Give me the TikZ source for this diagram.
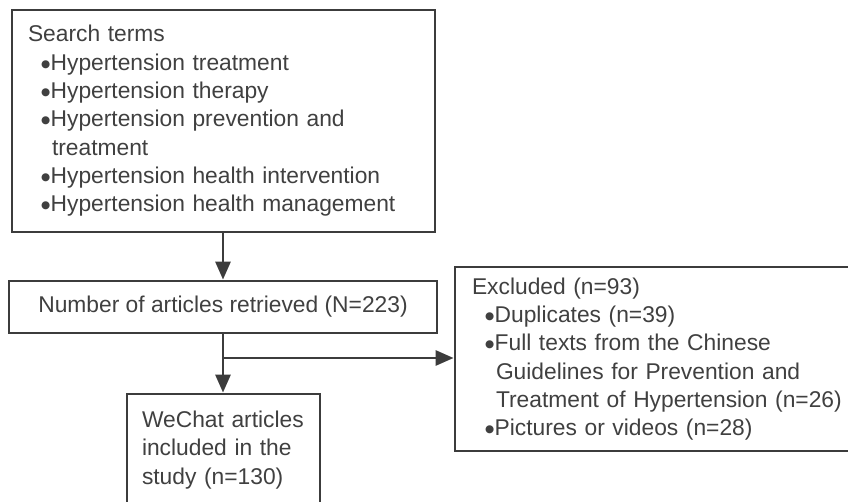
\documentclass[tikz,border=0pt]{standalone}
\usepackage{fontspec}
\setmainfont{Liberation Sans}
\newfontfamily\symfont{DejaVu Sans}
\usetikzlibrary{shapes,arrows.meta}

\definecolor{linegrey}{HTML}{3C3C3C}
\definecolor{textgrey}{HTML}{404040}
\newcommand{\bul}{\hspace*{13pt}\raisebox{3.2pt}{\symfont\fontsize{10.5}{10.5}\selectfont ●}\hspace*{0.5pt}}
\newcommand{\cont}{\hspace*{24pt}}

\begin{document}
\begin{tikzpicture}[x=1pt,y=-1pt]
	\tikzstyle{every node}+=[inner sep=0pt, text=textgrey, font=\fontsize{22.8}{28.3}\selectfont]
	\tikzstyle{box}=[draw=linegrey, line width=2.8pt, rectangle]
	\tikzstyle{flow}=[draw=linegrey, line width=2.8pt, -{Triangle[length=18pt,width=15pt]}]
	\useasboundingbox (0,0) rectangle (848,502);
	\clip (0,0) rectangle (848,502);
	\node [box, minimum width=423pt, minimum height=222pt, text width=391pt, align=left] (terms) at (223.5,121) {Search terms\\
		\bul Hypertension treatment\\
		\bul Hypertension therapy\\
		\bul Hypertension prevention and\\
		\cont treatment\\
		\bul Hypertension health intervention\\
		\bul Hypertension health management};
	\node [box, minimum width=428pt, minimum height=52pt] (retrieved) at (223,307) {Number of articles retrieved (N=223)};
	\node [box, minimum width=413pt, minimum height=184pt, text width=379pt, align=left] (excluded) at (661.5,359) {Excluded (n=93)\\
		\bul Duplicates (n=39)\\
		\bul Full texts from the Chinese\\
		\cont Guidelines for Prevention and\\
		\cont Treatment of Hypertension (n=26)\\
		\bul Pictures or videos (n=28)};
	\node [box, minimum width=193pt, minimum height=112pt, text width=163pt, align=left] (included) at (223.5,450) {WeChat articles\\
		included in the\\
		study (n=130)};
	\coordinate (split) at (223,358);
	\draw [flow] (terms.south -| 223,0) -- (retrieved.north -| 223,0);
	\draw [flow] (retrieved.south -| 223,0) -- (included.north -| 223,0);
	\draw [flow] (split) -- (split -| excluded.west);
\end{tikzpicture}
\end{document}
